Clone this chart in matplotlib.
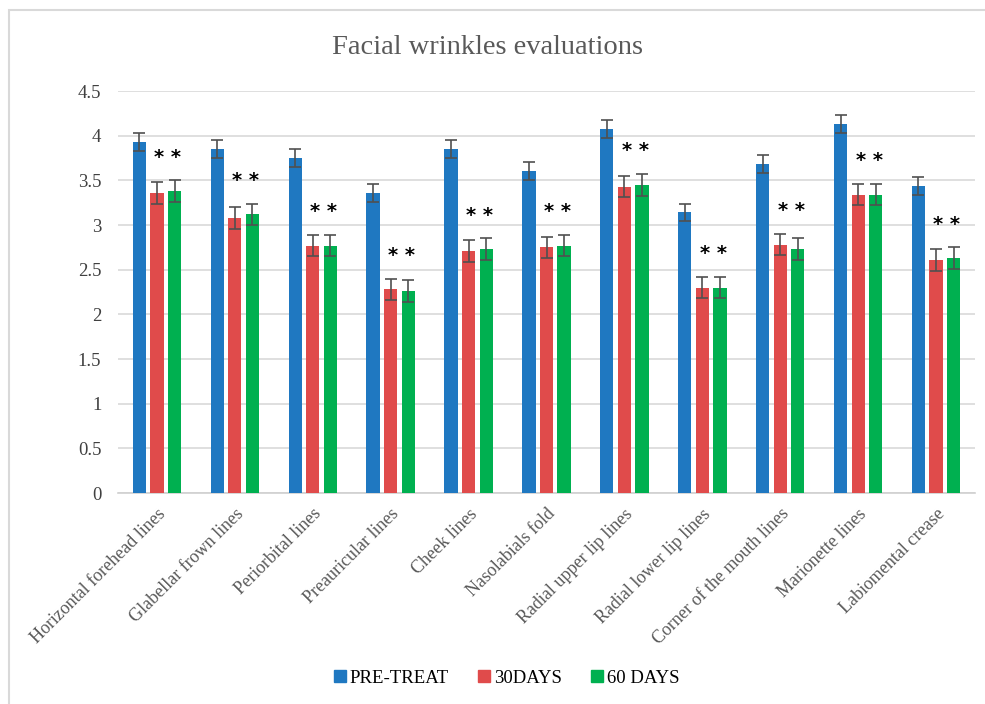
import matplotlib
matplotlib.use("Agg")
import matplotlib.pyplot as plt
import numpy as np
from matplotlib.patches import Rectangle
from matplotlib.lines import Line2D

categories = ["Horizontal forehead lines", "Glabellar frown lines", "Periorbital lines",
              "Preauricular lines", "Cheek lines", "Nasolabials fold", "Radial upper lip lines",
              "Radial lower lip lines", "Corner of the mouth lines", "Marionette lines",
              "Labiomental crease"]
pre_treat = [3.93, 3.85, 3.75, 3.36, 3.85, 3.60, 4.07, 3.14, 3.68, 4.13, 3.44]
days30 = [3.36, 3.08, 2.77, 2.28, 2.71, 2.75, 3.43, 2.30, 2.78, 3.34, 2.61]
days60 = [3.38, 3.12, 2.77, 2.26, 2.73, 2.77, 3.45, 2.30, 2.73, 3.34, 2.63]
err_pre = [0.10] * 11
err_30 = [0.12] * 11
err_60 = [0.12] * 11
series_names = ["PRE-TREAT", "30DAYS", "60 DAYS"]
yticks = [0, 0.5, 1, 1.5, 2, 2.5, 3, 3.5, 4, 4.5]
ytick_labels = ["0", "0.5", "1", "1.5", "2", "2.5", "3", "3.5", "4", "4.5"]
title = "Facial wrinkles evaluations"
star_label = "* *"

colors = ["#1F78C1", "#E04B4B", "#00B050"]
serif = ["Liberation Serif", "DejaVu Serif"]

fig = plt.figure(figsize=(9.85, 7.04), dpi=100)
W, H = 985, 704
ax = fig.add_axes([118 / W, 1 - 493 / H, (975 - 118) / W, (493 - 91) / H])

x = np.arange(len(categories))
w = 0.17
step = 0.226
ekw = dict(ecolor="#505050", elinewidth=1.2, capsize=4, capthick=1.2)
for i, (vals, errs) in enumerate([(pre_treat, err_pre), (days30, err_30), (days60, err_60)]):
    ax.bar(x + (i - 1) * step, vals, width=w, color=colors[i], yerr=errs,
           error_kw=ekw, zorder=3, label=series_names[i])

for i in range(len(categories)):
    top = max(days30[i] + err_30[i], days60[i] + err_60[i])
    ax.text(x[i] + 0.62 * step, top + 0.26, star_label, ha="center", va="center",
            fontsize=14, color="black", family=["DejaVu Sans"], fontweight="bold", zorder=4)

ax.set_xlim(-0.5, len(categories) - 0.5)
ax.set_ylim(0, 4.5)
ax.set_yticks(yticks)
ax.set_yticklabels(ytick_labels, family=serif, fontsize=13.5, color="#404040")
ax.set_xticks(x)
ax.set_xticklabels(categories, rotation=45, ha="right", rotation_mode="anchor",
                   family=serif, fontsize=13, color="#595959")
ax.tick_params(axis="both", length=0)
ax.tick_params(axis="y", pad=12)
ax.tick_params(axis="x", pad=9)
ax.grid(axis="y", color="#D9D9D9", linewidth=1.2, zorder=0)
ax.set_axisbelow(True)
for s in ["top", "right", "left"]:
    ax.spines[s].set_visible(False)
ax.spines["bottom"].set_color("#D0D0D0")
ax.spines["bottom"].set_linewidth(1.2)

fig.text(488 / W, 1 - 47 / H, title, ha="center", va="center", family=serif,
         fontsize=20.5, color="#595959")

handles = [Line2D([0], [0], marker="s", linestyle="none", markersize=9,
                  markerfacecolor=c, markeredgecolor=c) for c in colors]
fig.legend(handles, series_names, loc="center", bbox_to_anchor=(506 / W, 1 - 678 / H),
           ncol=3, frameon=False, prop={"family": serif, "size": 13.5},
           handletextpad=0.1, columnspacing=1.5, handlelength=0.8)

fig.patches.append(Rectangle((9 / W, -0.1), 1.2, 1 - 10 / H + 0.1, transform=fig.transFigure,
                             fill=False, edgecolor="#D9D9D9", linewidth=1.5))

fig.savefig("out.png", dpi=100)
